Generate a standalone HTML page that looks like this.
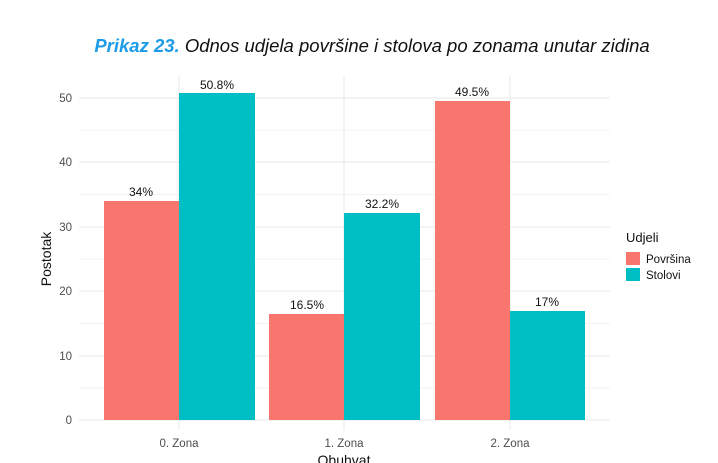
<!DOCTYPE html>
<html><head><meta charset="utf-8"><style>body{margin:0;background:#fff}svg{display:block}</style></head><body>
<svg width="718" height="463" xmlns="http://www.w3.org/2000/svg" font-family="Liberation Sans, sans-serif">
<rect width="718" height="463" fill="#fff"/>
<text x="372" y="52" text-anchor="middle" font-size="18.5" font-style="italic" fill="#111"><tspan font-weight="bold" fill="#1E9BE8">Prikaz 23.</tspan> Odnos udjela površine i stolova po zonama unutar zidina</text>
<g stroke="#f3f3f3" stroke-width="1">
<line x1="79" x2="610" y1="388" y2="388"/><line x1="79" x2="610" y1="323.5" y2="323.5"/><line x1="79" x2="610" y1="259" y2="259"/><line x1="79" x2="610" y1="194.5" y2="194.5"/><line x1="79" x2="610" y1="130" y2="130"/>
</g>
<g stroke="#e8e8e8" stroke-width="1">
<line x1="79" x2="610" y1="420" y2="420"/><line x1="79" x2="610" y1="356" y2="356"/><line x1="79" x2="610" y1="291" y2="291"/><line x1="79" x2="610" y1="227" y2="227"/><line x1="79" x2="610" y1="162" y2="162"/><line x1="79" x2="610" y1="98" y2="98"/>
<line x1="179" x2="179" y1="75" y2="430"/><line x1="344" x2="344" y1="75" y2="430"/><line x1="510" x2="510" y1="75" y2="430"/>
</g>
<g>
<rect x="104" y="201" width="75" height="219" fill="#F8766D"/>
<rect x="179" y="93" width="76" height="327" fill="#00BFC4"/>
<rect x="269" y="314" width="75" height="106" fill="#F8766D"/>
<rect x="344" y="213" width="76" height="207" fill="#00BFC4"/>
<rect x="435" y="101" width="75" height="319" fill="#F8766D"/>
<rect x="510" y="311" width="75" height="109" fill="#00BFC4"/>
</g>
<g font-size="12" fill="#111" text-anchor="middle">
<text x="141" y="196">34%</text><text x="217" y="89">50.8%</text>
<text x="307" y="309">16.5%</text><text x="382" y="208">32.2%</text>
<text x="472" y="96">49.5%</text><text x="547" y="306">17%</text>
</g>
<g font-size="11.5" fill="#4d4d4d" text-anchor="end">
<text x="72" y="424">0</text><text x="72" y="360">10</text><text x="72" y="295">20</text><text x="72" y="231">30</text><text x="72" y="166">40</text><text x="72" y="102">50</text>
</g>
<g font-size="11.5" fill="#4d4d4d" text-anchor="middle">
<text x="179" y="447">0. Zona</text><text x="344" y="447">1. Zona</text><text x="510" y="447">2. Zona</text>
</g>
<text x="344" y="465" font-size="14" text-anchor="middle" fill="#111">Obuhvat</text>
<text transform="translate(51,259) rotate(-90)" font-size="14" text-anchor="middle" fill="#111">Postotak</text>
<text x="626" y="242" font-size="13" fill="#111">Udjeli</text>
<rect x="626" y="252" width="14" height="13" fill="#F8766D"/>
<rect x="626" y="268" width="14" height="13" fill="#00BFC4"/>
<text x="646" y="263" font-size="11.5" fill="#111">Površina</text>
<text x="646" y="279" font-size="11.5" fill="#111">Stolovi</text>
</svg>
</body></html>
